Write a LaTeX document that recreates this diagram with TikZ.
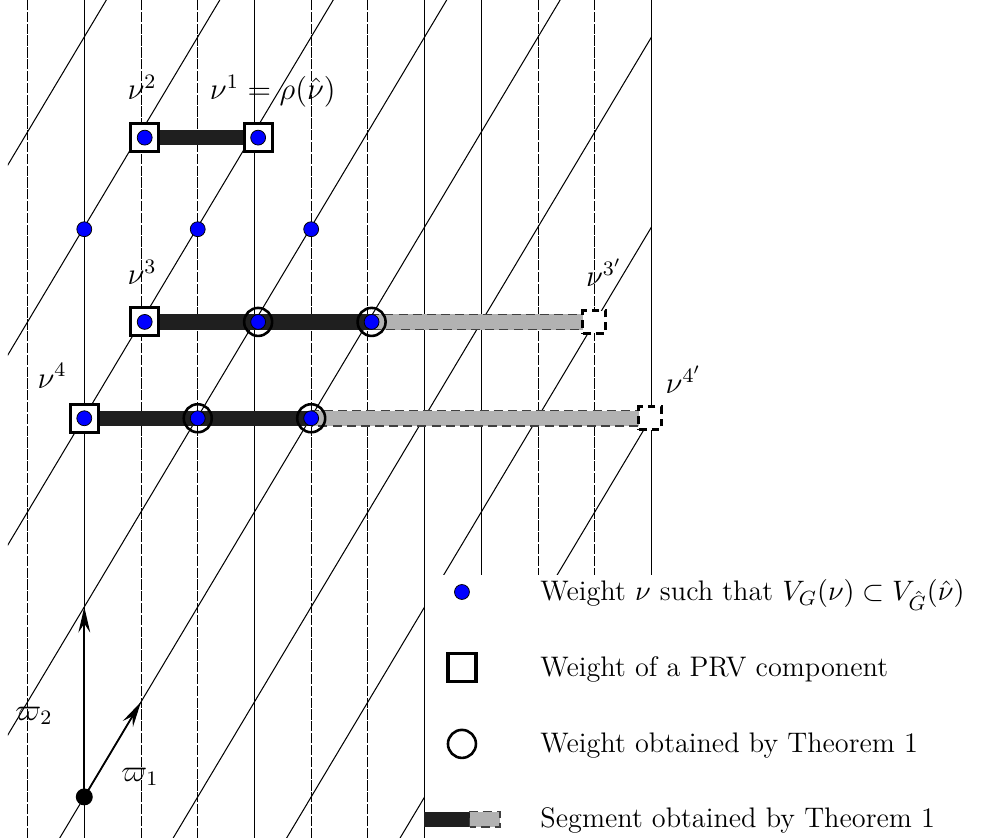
\documentclass[tikz,border=0pt]{standalone}
\usepackage{amsmath,amssymb}
\usepackage{xcolor}
\usepackage{tikz}
\usetikzlibrary{arrows.meta,positioning}

\begin{document}
\begin{tikzpicture}[x=22.07pt, y=36.96pt,
    wall/.style={line width=0.4pt},
    dwall/.style={line width=0.4pt,dash pattern=on 4pt off 0.6pt},
    diag/.style={line width=0.4pt},
    wt/.style={circle,draw,fill=blue,line width=0.3pt,minimum size=5.8pt,inner sep=0pt},
    prv/.style={draw,fill=white,line width=1.2pt,minimum size=10.9pt,inner sep=0pt},
    dprv/.style={draw,fill=white,line width=1.2pt,dash pattern=on 3pt off 2pt,minimum size=8.8pt,inner sep=0pt},
    thm/.style={circle,draw,line width=1pt,minimum size=10.9pt,inner sep=0pt},
    seg/.style={fill=black!88},
    xseg/.style={fill=black!30,draw=black!75,dash pattern=on 3.5pt off 2pt,line width=0.5pt},
    lab/.style={inner sep=0pt,font=\large},
    leg/.style={anchor=base west,inner sep=0pt,font=\fontsize{11}{13}\selectfont}]

  \useasboundingbox (-1.486,-0.4316) rectangle (15.861,8.389);

  % vertical lines
  \foreach \k in {-1,...,10}{
    \ifnum\k=0 \def\ws{wall}\else
    \ifnum\k=3 \def\ws{wall}\else
    \ifnum\k=6 \def\ws{wall}\else
    \ifnum\k=7 \def\ws{wall}\else
    \ifnum\k=10 \def\ws{wall}\else \def\ws{dwall}\fi\fi\fi\fi\fi
    \draw[\ws] (\k,-0.4316) -- (\k,8.389);
  }
  % lines along varpi_1
  \begin{scope}
    \clip (-1.345,-0.4316) rectangle (10,8.389);
    \foreach \m in {-6,...,5}
      \draw[diag] (-2,-2+2*\m) -- (11,11+2*\m);
  \end{scope}

  % legend background
  \fill[white] (6.015,-0.4316) rectangle (15.861,2.337);

  % weights
  \coordinate (n2) at (1.065,6.94);
  \coordinate (n1) at (3.065,6.94);
  \coordinate (n3) at (1.065,5.0);
  \coordinate (c31) at (3.065,5.0);
  \coordinate (c32) at (5.065,5.0);
  \coordinate (n3x) at (8.99,5.0);
  \coordinate (n4) at (0,3.986);
  \coordinate (c41) at (2,3.986);
  \coordinate (c42) at (4,3.986);
  \coordinate (n4x) at (9.977,3.986);

  % segments
  \fill[seg] ([yshift=-3pt]n2) rectangle ([yshift=3pt]n1);
  \fill[seg] ([yshift=-3pt]n3) rectangle ([yshift=3pt]c32);
  \draw[xseg] ([yshift=-3pt]c32) rectangle ([yshift=3pt]n3x);
  \fill[seg] ([yshift=-3pt]n4) rectangle ([yshift=3pt]c42);
  \draw[xseg] ([yshift=-3pt]c42) rectangle ([yshift=3pt]n4x);

  \node[prv] (p2) at (n2) {};
  \node[prv] (p1) at (n1) {};
  \node[prv] (p3) at (n3) {};
  \node[prv] (p4) at (n4) {};
  \node[dprv] (q3) at (n3x) {};
  \node[dprv] (q4) at (n4x) {};
  \node[thm] (t31) at (c31) {};
  \node[thm] (t32) at (c32) {};
  \node[thm] (t41) at (c41) {};
  \node[thm] (t42) at (c42) {};

  \foreach \p in {n2,n1,n3,c31,c32,n4,c41,c42}
    \node[wt] at (\p) {};
  \foreach \i in {0,2,4}
    \node[wt] (w\i) at (\i,5.976) {};

  % labels
  \node[lab, above=8.7pt of p2, anchor=base, xshift=-1pt] {$\nu^2$};
  \node[lab, above=8.6pt of p1, anchor=base, xshift=5.7pt] {$\nu^1=\rho(\hat{\nu})$};
  \node[lab, above=8.6pt of p3, anchor=base, xshift=-1pt] {$\nu^3$};
  \node[lab, above left=5.7pt and 0.6pt of p4, anchor=base east] {$\nu^4$};
  \node[lab, above=8.9pt of q3, anchor=base, xshift=3.8pt] {$\nu^{3'}$};
  \node[lab, above right=4.7pt and 0.8pt of q4, anchor=base west] {$\nu^{4'}$};

  % fundamental weights
  \node[circle,fill=black,minimum size=6.6pt,inner sep=0pt] (o) at (0,0) {};
  \coordinate (f1) at (1,1);
  \coordinate (f2) at (0,2);
  \draw[line width=0.7pt,-{Stealth[length=10pt,width=4.6pt,inset=3.5pt]}] (o.center) -- (f1);
  \draw[line width=0.7pt,-{Stealth[length=10pt,width=4.6pt,inset=3.5pt]}] (o.center) -- (f2);
  \node[lab] at (0.982,0.21) {$\varpi_1$};
  \node[lab] at (-0.887,0.853) {$\varpi_2$};

  % legend
  \node[wt] (lw) at (6.658,2.157) {};
  \node[prv] (lp) at (6.658,1.358) {};
  \node[thm] (lc) at (6.658,0.558) {};
  \coordinate (lb1) at (5.99,-0.237);
  \coordinate (lb2) at (6.797,-0.237);
  \coordinate (lb3) at (7.326,-0.237);
  \fill[seg] ([yshift=-3pt]lb1) rectangle ([yshift=3pt]lb2);
  \draw[xseg] ([yshift=-3pt]lb2) rectangle ([yshift=3pt]lb3);
  \node[leg] at (8.033,2.063) {Weight $\nu$ such that $V_G(\nu)\subset V_{\hat{G}}(\hat{\nu})$};
  \node[leg] at (8.033,1.263) {Weight of a PRV component};
  \node[leg] at (8.033,0.463) {Weight obtained by Theorem 1};
  \node[leg] at (8.033,-0.326) {Segment obtained by Theorem 1};
\end{tikzpicture}
\end{document}
